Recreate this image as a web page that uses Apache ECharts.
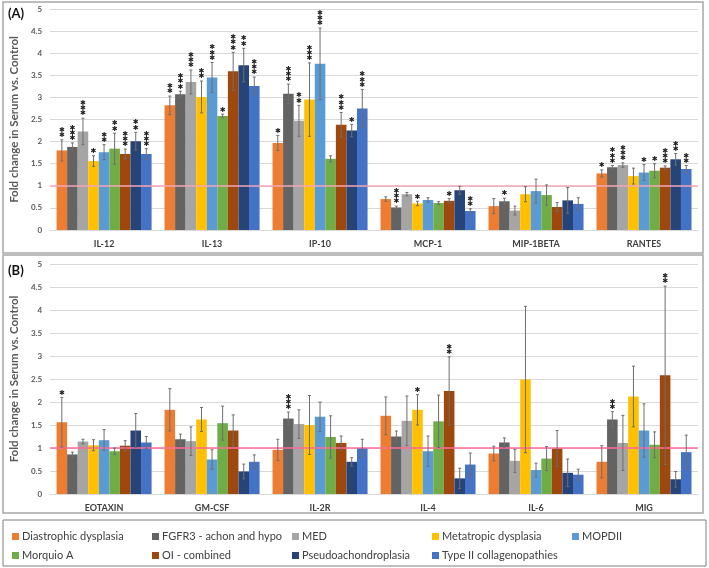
<!DOCTYPE html>
<html lang="en">
<head>
<meta charset="UTF-8">
<title>Fold change in serum</title>
<script src="https://cdn.jsdelivr.net/npm/echarts@6.0.0/dist/echarts.min.js"></script>
<style>
  html, body { margin: 0; padding: 0; background: #fff; }
  #chart { width: 709px; height: 568px; }
</style>
</head>
<body>
<div id="chart"></div>
<script>
// groups (legend) and colours
const groups = ['Diastrophic dysplasia', 'FGFR3 - achon and hypo', 'MED', 'Metatropic dysplasia', 'MOPDII',
                'Morquio A', 'OI - combined', 'Pseudoachondroplasia', 'Type II collagenopathies'];
const colors = ['#ED7D31', '#636363', '#A5A5A5', '#FFC000', '#5B9BD5', '#70AD47', '#9E480E', '#264478', '#4472C4'];

// panel A
const catsA = ['IL-12', 'IL-13', 'IP-10', 'MCP-1', 'MIP-1BETA', 'RANTES'];
const meanA = [
  [1.80, 1.88, 2.23, 1.56, 1.76, 1.84, 1.72, 2.01, 1.72],
  [2.82, 3.07, 3.35, 3.01, 3.45, 2.58, 3.59, 3.73, 3.26],
  [1.97, 3.08, 2.47, 2.95, 3.76, 1.61, 2.38, 2.25, 2.75],
  [0.70, 0.51, 0.81, 0.60, 0.68, 0.61, 0.66, 0.90, 0.43],
  [0.54, 0.65, 0.44, 0.81, 0.88, 0.79, 0.52, 0.67, 0.59],
  [1.28, 1.42, 1.47, 1.22, 1.30, 1.34, 1.41, 1.60, 1.38]
];
const errA = [
  [0.24, 0.09, 0.30, 0.12, 0.17, 0.35, 0.11, 0.20, 0.12],
  [0.21, 0.07, 0.27, 0.36, 0.34, 0.04, 0.43, 0.38, 0.20],
  [0.17, 0.22, 0.35, 0.83, 0.81, 0.07, 0.28, 0.14, 0.43],
  [0.05, 0.03, 0.04, 0.05, 0.05, 0.03, 0.05, 0.09, 0.05],
  [0.17, 0.07, 0.10, 0.17, 0.27, 0.23, 0.10, 0.29, 0.14],
  [0.08, 0.04, 0.05, 0.18, 0.18, 0.16, 0.04, 0.13, 0.08]
];
const starsA = [
  [2, 3, 3, 1, 2, 2, 3, 2, 3],
  [2, 3, 3, 2, 3, 1, 3, 2, 3],
  [1, 3, 2, 3, 3, 0, 3, 1, 3],
  [0, 3, 0, 1, 0, 0, 1, 0, 2],
  [0, 1, 0, 0, 0, 0, 0, 0, 0],
  [1, 3, 3, 0, 1, 1, 3, 2, 2]
];

// panel B
const catsB = ['EOTAXIN', 'GM-CSF', 'IL-2R', 'IL-4', 'IL-6', 'MIG'];
const meanB = [
  [1.56, 0.86, 1.14, 1.06, 1.17, 0.93, 1.05, 1.38, 1.12],
  [1.83, 1.19, 1.15, 1.62, 0.75, 1.54, 1.38, 0.49, 0.70],
  [0.96, 1.64, 1.52, 1.50, 1.68, 1.24, 1.11, 0.70, 1.00],
  [1.70, 1.25, 1.59, 1.83, 0.93, 1.58, 2.24, 0.34, 0.64],
  [0.88, 1.12, 0.72, 2.49, 0.52, 0.77, 0.99, 0.46, 0.42],
  [0.70, 1.62, 1.11, 2.12, 1.38, 1.07, 2.58, 0.32, 0.91]
];
const errB = [
  [0.54, 0.05, 0.05, 0.12, 0.23, 0.07, 0.11, 0.37, 0.13],
  [0.46, 0.11, 0.31, 0.26, 0.21, 0.37, 0.34, 0.16, 0.15],
  [0.23, 0.14, 0.31, 0.64, 0.32, 0.46, 0.15, 0.09, 0.19],
  [0.41, 0.12, 0.54, 0.33, 0.33, 0.57, 0.74, 0.22, 0.25],
  [0.16, 0.10, 0.25, 1.59, 0.15, 0.26, 0.39, 0.30, 0.12],
  [0.35, 0.17, 0.60, 0.66, 0.58, 0.28, 1.94, 0.17, 0.37]
];
const starsB = [
  [1, 0, 0, 0, 0, 0, 0, 0, 0],
  [0, 0, 0, 0, 0, 0, 0, 0, 0],
  [0, 3, 0, 0, 0, 0, 0, 0, 0],
  [0, 0, 0, 1, 0, 0, 2, 0, 0],
  [0, 0, 0, 0, 0, 0, 0, 0, 0],
  [0, 2, 0, 0, 0, 0, 2, 0, 0]
];

const catGap = 0.12;
const font = 'Lato, "Open Sans", sans-serif';

var chart = echarts.init(document.getElementById('chart'));

function makeAxes(idx, cats) {
  return {
    x: {
      type: 'category', gridIndex: idx, data: cats,
      axisTick: { show: false },
      axisLine: { lineStyle: { color: '#d9d9d9' } },
      axisLabel: { fontSize: 9, fontWeight: 'bold', color: '#404040', margin: 10, fontFamily: font }
    },
    y: {
      type: 'value', gridIndex: idx, min: 0, max: 5, interval: 0.5,
      name: 'Fold change in Serum vs. Control', nameLocation: 'middle', nameGap: 28,
      nameTextStyle: { fontSize: 11.5, fontWeight: 'bold', color: '#595959', fontFamily: font },
      axisLabel: { fontSize: 8, fontWeight: 'bold', color: '#595959', margin: 8, fontFamily: font },
      splitLine: { lineStyle: { color: '#d9d9d9', width: 1 } }
    }
  };
}

function barSeries(idx, means, lineColor) {
  return groups.map((g, gi) => {
    var s = {
      name: g, type: 'bar', xAxisIndex: idx, yAxisIndex: idx,
      barGap: 0, barCategoryGap: (catGap * 100) + '%',
      itemStyle: { color: colors[gi] },
      data: means.map(row => row[gi])
    };
    if (gi === 0) {
      s.markLine = {
        silent: true, symbol: 'none', label: { show: false },
        lineStyle: { color: lineColor, width: 1.5, type: 'solid' },
        data: [{ yAxis: 1 }]
      };
    }
    return s;
  });
}

// error bars + significance stars drawn on the same band layout as the bars
function errSeries(idx, means, errs, stars) {
  var data = [];
  means.forEach((row, c) => row.forEach((m, g) => data.push([c, g, m, errs[c][g], stars[c][g]])));
  return {
    type: 'custom', xAxisIndex: idx, yAxisIndex: idx, z: 5, silent: true,
    encode: { x: 0, y: 2 },
    data: data,
    renderItem: function (params, api) {
      var c = api.value(0), g = api.value(1), m = api.value(2), e = api.value(3), s = api.value(4);
      var band = api.size([1, 0])[0];
      var used = band * (1 - catGap);
      var w = used / groups.length;
      var cx = api.coord([c, 0])[0] - used / 2 + w * (g + 0.5);
      var yLo = api.coord([c, m - e])[1];
      var yHi = api.coord([c, m + e])[1];
      var st = { stroke: '#6e6e6e', lineWidth: 1 };
      var kids = [
        { type: 'line', shape: { x1: cx, y1: yLo, x2: cx, y2: yHi }, style: st },
        { type: 'line', shape: { x1: cx - 1.5, y1: yLo, x2: cx + 1.5, y2: yLo }, style: st },
        { type: 'line', shape: { x1: cx - 1.5, y1: yHi, x2: cx + 1.5, y2: yHi }, style: st }
      ];
      for (var k = 0; k < s; k++) {
        kids.push({
          type: 'text',
          style: { text: '\u2731', x: cx, y: yHi - 4.5 - k * 5.2, align: 'center', verticalAlign: 'middle',
                   fontSize: 7, fill: '#222', fontFamily: 'DejaVu Sans' }
        });
      }
      return { type: 'group', children: kids };
    }
  };
}

var axA = makeAxes(0, catsA), axB = makeAxes(1, catsB);

// legend: one component per entry so they sit in fixed columns
var legCols = [12, 152, 292, 432, 572];
var legRows = [531, 550];
var legends = groups.map((g, i) => ({
  data: [g], left: legCols[i % 5], top: legRows[Math.floor(i / 5)],
  icon: 'rect', itemWidth: 7, itemHeight: 7, itemGap: 0, padding: 0,
  textStyle: { fontSize: 11, color: '#404040', fontFamily: font, padding: [0, 0, 0, -2] },
  selectedMode: false
}));

var option = {
  animation: false,
  textStyle: { fontFamily: font },
  grid: [
    { left: 46, right: 11, top: 9, height: 221 },
    { left: 46, right: 11, top: 264, height: 230 }
  ],
  xAxis: [axA.x, axB.x],
  yAxis: [axA.y, axB.y],
  legend: legends,
  graphic: [
    { type: 'rect', shape: { x: 3, y: 2, width: 700, height: 251 }, style: { fill: 'none', stroke: '#a6a6a6', lineWidth: 1.5 }, z: -1 },
    { type: 'rect', shape: { x: 3, y: 255, width: 700, height: 258 }, style: { fill: 'none', stroke: '#a6a6a6', lineWidth: 1.5 }, z: -1 },
    { type: 'rect', shape: { x: 3, y: 520, width: 703, height: 46 }, style: { fill: 'none', stroke: '#7f7f7f', lineWidth: 1 }, z: -1 },
    { type: 'text', left: 8, top: 7, style: { text: '(A)', fontSize: 13, fontWeight: 'bold', fill: '#111', fontFamily: font } },
    { type: 'text', left: 8, top: 264, style: { text: '(B)', fontSize: 13, fontWeight: 'bold', fill: '#111', fontFamily: font } }
  ],
  series: [].concat(
    barSeries(0, meanA, '#f4a6b8'),
    barSeries(1, meanB, '#ff6b9a'),
    [errSeries(0, meanA, errA, starsA), errSeries(1, meanB, errB, starsB)]
  )
};
chart.setOption(option);
</script>
</body>
</html>
